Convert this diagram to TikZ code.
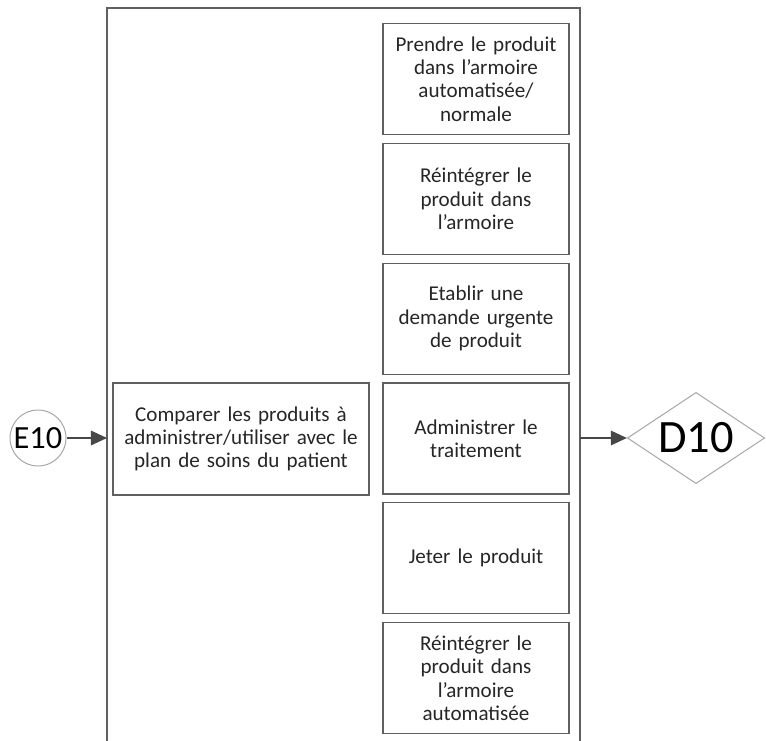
\documentclass[tikz,border=0pt]{standalone}
\usepackage{fontspec}
\setmainfont{Carlito}
\usetikzlibrary{arrows.meta,positioning,shapes.geometric}
\tikzset{
  task/.style={draw=gray!75!black,line width=0.9pt,align=center,outer sep=0pt,
               minimum width=4.65cm,minimum height=2.775cm,text width=4.5cm,
               inner sep=0pt,font=\fontsize{15}{16.6}\selectfont,text=black!85},
  event/.style={circle,draw=gray!70,line width=0.7pt,minimum size=1.4cm,inner sep=0pt,
                font=\fontsize{23}{26}\selectfont},
  gate/.style={diamond,aspect=1.5,draw=gray!70,line width=0.7pt,minimum width=3.43cm,
               minimum height=2.28cm,inner sep=0pt,font=\fontsize{33}{36}\selectfont},
  flow/.style={-{Triangle[length=4mm,width=3.6mm]},line width=1.3pt,draw=black!72}
}

\begin{document}
\begin{tikzpicture}[x=0.025cm,y=-0.025cm]
  \useasboundingbox (0,0) rectangle (766,740);
  % open frame of the activity
  \draw[gray!75!black,line width=0.9pt] (107,750) -- (107,8) -- (580,8) -- (580,750);
  \coordinate (fin) at (107,438);
  \coordinate (fout) at (580,438);

  % left task
  \node[task,minimum width=6.4cm,minimum height=2.8cm,text width=6.2cm] (cmp) at (241,439)
    {Comparer les produits à\\administrer/utiliser avec le\\plan de soins du patient};

  % right column
  \node[task] (t1) at (476,79) {Prendre le produit\\dans l’armoire\\automatisée/\\normale};
  \node[task,below=0.22cm of t1] (t2) {Réintégrer le\\produit dans\\l’armoire};
  \node[task,below=0.22cm of t2] (t3) {Etablir une\\demande urgente\\de produit};
  \node[task,below=0.22cm of t3] (t4) {Administrer le\\traitement};
  \node[task,below=0.22cm of t4] (t5) {Jeter le produit};
  \node[task,below=0.22cm of t5] (t6) {Réintégrer le\\produit dans\\l’armoire\\automatisée};

  % entry and exit
  \node[event] (e10) at (38,438) {E10};
  \node[gate] (d10) at (696,438) {D10};
  \draw[flow] (e10) -- (fin);
  \draw[flow] (fout) -- (d10.west);
\end{tikzpicture}
\end{document}
